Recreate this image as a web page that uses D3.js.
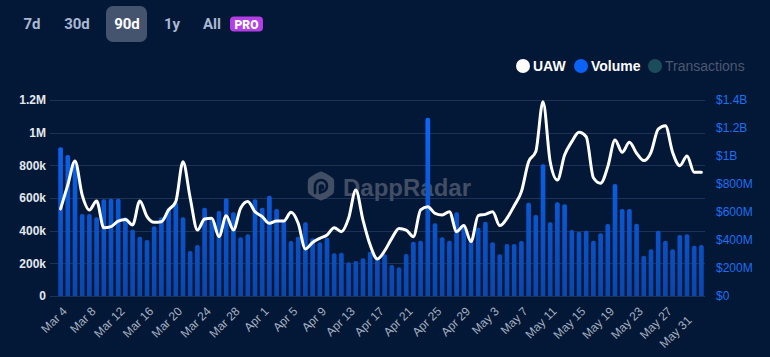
<!DOCTYPE html>
<html>
<head>
<meta charset="utf-8">
<script src="https://cdn.jsdelivr.net/npm/d3@7"></script>
<style>
  html, body { margin: 0; padding: 0; background: #031736; }
  svg { display: block; }
</style>
</head>
<body>
<svg id="chart" width="770" height="357"></svg>
<script>
// ---- data ----
const days = [
  "Mar 3","Mar 4","Mar 5","Mar 6","Mar 7","Mar 8","Mar 9","Mar 10","Mar 11","Mar 12",
  "Mar 13","Mar 14","Mar 15","Mar 16","Mar 17","Mar 18","Mar 19","Mar 20","Mar 21","Mar 22",
  "Mar 23","Mar 24","Mar 25","Mar 26","Mar 27","Mar 28","Mar 29","Mar 30","Mar 31","Apr 1",
  "Apr 2","Apr 3","Apr 4","Apr 5","Apr 6","Apr 7","Apr 8","Apr 9","Apr 10","Apr 11",
  "Apr 12","Apr 13","Apr 14","Apr 15","Apr 16","Apr 17","Apr 18","Apr 19","Apr 20","Apr 21",
  "Apr 22","Apr 23","Apr 24","Apr 25","Apr 26","Apr 27","Apr 28","Apr 29","Apr 30","May 1",
  "May 2","May 3","May 4","May 5","May 6","May 7","May 8","May 9","May 10","May 11",
  "May 12","May 13","May 14","May 15","May 16","May 17","May 18","May 19","May 20","May 21",
  "May 22","May 23","May 24","May 25","May 26","May 27","May 28","May 29","May 30","May 31"
];
// Unique active wallets, thousands
const uawK = [
  533,680,827,618,527,582,418,425,459,469,
  435,582,486,451,455,527,578,822,600,404,
  471,476,363,492,404,537,578,516,486,445,
  459,459,512,445,288,328,353,373,418,394,
  476,649,465,312,227,276,353,414,404,363,
  527,547,506,496,516,394,431,333,492,500,
  516,431,476,553,639,822,884,1190,822,710,
  863,945,1002,975,724,690,792,955,880,941,
  874,829,880,1022,1043,880,798,857,757,757
];
// Volume, millions of USD
const volumeM = [
  1062,1007,964,586,586,562,691,695,695,562,
  474,424,400,498,562,626,666,562,321,364,
  631,559,607,698,598,419,441,691,631,716,
  621,543,393,424,526,412,384,416,305,309,
  241,250,269,316,269,298,221,205,300,388,
  395,1274,519,419,395,598,514,400,488,531,
  384,298,371,371,393,666,579,941,526,669,
  655,471,459,466,395,448,514,800,621,621,
  516,288,334,466,395,334,436,441,359,364
];
const xTickLabels = ["Mar 4","Mar 8","Mar 12","Mar 16","Mar 20","Mar 24","Mar 28","Apr 1","Apr 5","Apr 9",
  "Apr 13","Apr 17","Apr 21","Apr 25","Apr 29","May 3","May 7","May 11","May 15","May 19","May 23","May 27","May 31"];
const leftTickValues = [0,200,400,600,800,1000,1200];
const leftTickLabels = ["0","200k","400k","600k","800k","1M","1.2M"];
const rightTickValues = [0,200,400,600,800,1000,1200,1400];
const rightTickLabels = ["$0","$200M","$400M","$600M","$800M","$1B","$1.2B","$1.4B"];
const periods = ["7d","30d","90d","1y","All"];
const legendItems = ["UAW","Volume","Transactions"];

// ---- drawing ----
const svg = d3.select("#chart");
const W = 770, H = 357;
const plot = {left: 57, right: 705, top: 100, bottom: 296};

svg.append("rect").attr("width", W).attr("height", H).attr("fill", "#031736");

const defs = svg.append("defs");
const grad = defs.append("linearGradient").attr("id", "barGrad")
  .attr("gradientUnits", "userSpaceOnUse")
  .attr("x1", 0).attr("x2", 0).attr("y1", plot.top).attr("y2", plot.bottom);
grad.append("stop").attr("offset", "0%").attr("stop-color", "#0c6bff");
grad.append("stop").attr("offset", "100%").attr("stop-color", "#0a47ad");

const x = d3.scaleBand().domain(days).range([plot.left, plot.right])
  .paddingInner(0.35).paddingOuter(0.175);
const yL = d3.scaleLinear().domain([0, 1200]).range([plot.bottom, plot.top]);
const yR = d3.scaleLinear().domain([0, 1400]).range([plot.bottom, plot.top]);

// period buttons
const btnX = [32, 77, 127, 172, 212];
svg.append("rect").attr("x", 106).attr("y", 6).attr("width", 41).attr("height", 36)
  .attr("rx", 7).attr("fill", "#44546f");
svg.append("g").selectAll("text").data(periods).join("text")
  .attr("x", (d, i) => btnX[i]).attr("y", 29)
  .attr("text-anchor", "middle")
  .attr("font-family", "Roboto, 'Liberation Sans', sans-serif")
  .attr("font-weight", "bold").attr("font-size", 15)
  .attr("fill", d => d === "90d" ? "#ffffff" : "#a9b9d4")
  .text(d => d);
svg.append("rect").attr("x", 230).attr("y", 16.5).attr("width", 33).attr("height", 15)
  .attr("rx", 4).attr("fill", "#b43ee6");
svg.append("text").attr("x", 246.5).attr("y", 28.5).attr("text-anchor", "middle")
  .attr("font-family", "Roboto, 'Liberation Sans', sans-serif")
  .attr("font-weight", "900").attr("font-size", 12).attr("fill", "#ffffff").text("PRO");

// legend
const legX = [523, 581, 655];
const legColor = ["#ffffff", "#0a62f7", "#1c4b5c"];
const legText = ["#ffffff", "#ffffff", "#4b5972"];
const leg = svg.append("g").selectAll("g").data(legendItems).join("g")
  .attr("transform", (d, i) => `translate(${legX[i]},66)`);
leg.append("circle").attr("r", 7).attr("fill", (d, i) => legColor[i]);
leg.append("text").attr("x", 10).attr("y", 5)
  .attr("font-family", "'Liberation Sans', Arial, sans-serif")
  .attr("font-weight", (d, i) => i < 2 ? "bold" : "normal")
  .attr("font-size", 14).attr("fill", (d, i) => legText[i]).text(d => d);

// grid
svg.append("g").selectAll("line").data(leftTickValues).join("line")
  .attr("x1", 50).attr("x2", plot.right)
  .attr("y1", d => Math.round(yL(d)) + 0.5).attr("y2", d => Math.round(yL(d)) + 0.5)
  .attr("stroke", "#1d3256").attr("stroke-width", 1);

// watermark
const wm = svg.append("g").attr("opacity", 0.85);
const hex = d3.range(6).map(k => {
  const a = Math.PI / 6 + k * Math.PI / 3;
  return [321 + 14.5 * Math.cos(a), 186 + 14.5 * Math.sin(a)];
});
wm.append("path").attr("d", d3.line().curve(d3.curveCardinalClosed.tension(0.55))(hex))
  .attr("fill", "#4d586d");
wm.append("path")
  .attr("d", "M315,193 L315,186 A6,6 0 1 1 321,192 M320,193 L320,187 A1.5,1.5 0 1 1 321.5,188.5")
  .attr("fill", "none").attr("stroke", "#031736").attr("stroke-width", 2.6).attr("stroke-linecap", "round");
wm.append("text").attr("x", 343).attr("y", 196)
  .attr("font-family", "'Liberation Sans', Arial, sans-serif")
  .attr("font-weight", "bold").attr("font-size", 24).attr("fill", "#4d586d")
  .text("DappRadar");

// bars
const bw = x.bandwidth();
const r = 2;
svg.append("g").selectAll("path").data(volumeM).join("path")
  .attr("fill", "url(#barGrad)")
  .attr("d", (d, i) => {
    const x0 = x(days[i]), y0 = yR(d), yb = yR(0);
    return `M${x0},${yb} L${x0},${y0 + r} Q${x0},${y0} ${x0 + r},${y0} L${x0 + bw - r},${y0} Q${x0 + bw},${y0} ${x0 + bw},${y0 + r} L${x0 + bw},${yb} Z`;
  });

// line
const line = d3.line()
  .x((d, i) => x(days[i]) + bw / 2)
  .y(d => yL(d))
  .curve(d3.curveMonotoneX);
svg.append("path").datum(uawK).attr("d", line)
  .attr("fill", "none").attr("stroke", "#ffffff").attr("stroke-width", 3)
  .attr("stroke-linejoin", "round").attr("stroke-linecap", "round");

// left axis labels
svg.append("g").selectAll("text").data(leftTickValues).join("text")
  .attr("x", 46).attr("y", d => yL(d)).attr("dy", "0.35em")
  .attr("text-anchor", "end")
  .attr("font-family", "'Liberation Sans', Arial, sans-serif")
  .attr("font-weight", "bold").attr("font-size", 12).attr("fill", "#e4e8ee")
  .text((d, i) => leftTickLabels[i]);

// right axis labels
svg.append("g").selectAll("text").data(rightTickValues).join("text")
  .attr("x", 716).attr("y", d => yR(d)).attr("dy", "0.35em")
  .attr("text-anchor", "start")
  .attr("font-family", "'Liberation Sans', Arial, sans-serif")
  .attr("font-size", 12).attr("fill", "#1f6ff0")
  .text((d, i) => rightTickLabels[i]);

// x labels (last one nudged down-left as in the original)
const nLab = xTickLabels.length;
svg.append("g").selectAll("text").data(xTickLabels).join("text")
  .attr("transform", (d, i) => {
    const shift = i === nLab - 1 ? 9 : 0;
    return `translate(${x(d) + bw / 2 - shift},${312 + shift}) rotate(-45)`;
  })
  .attr("text-anchor", "end")
  .attr("font-family", "'Liberation Sans', Arial, sans-serif")
  .attr("font-size", 12).attr("fill", "#a6b0c0")
  .text(d => d);
</script>
</body>
</html>
